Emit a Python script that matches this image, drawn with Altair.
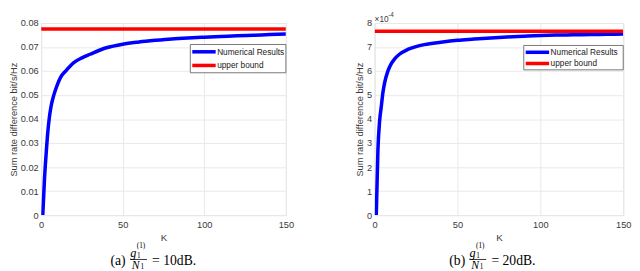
import altair as alt
import pandas as pd

# ---- data ----
K = [1, 2, 3, 4, 5, 6, 8, 10, 12, 15, 20, 25, 30, 40, 50, 60, 70, 80, 90, 100,
     110, 120, 130, 140, 150]
rate_a = [0.0, 0.0145, 0.025, 0.034, 0.0405, 0.045, 0.0505, 0.0545, 0.0575, 0.060,
          0.0635, 0.0655, 0.067, 0.0697, 0.0712, 0.0721, 0.0728, 0.0734, 0.0738, 0.0741,
          0.0744, 0.0747, 0.0749, 0.0752, 0.0754]
rate_b = [0.0, 2.7e-4, 3.9e-4, 4.5e-4, 5.1e-4, 5.5e-4, 6.0e-4, 6.3e-4, 6.5e-4, 6.7e-4,
          6.9e-4, 7.02e-4, 7.1e-4, 7.2e-4, 7.28e-4, 7.33e-4, 7.38e-4, 7.42e-4, 7.45e-4, 7.48e-4,
          7.50e-4, 7.51e-4, 7.52e-4, 7.53e-4, 7.54e-4]
bound_a = 0.0775
bound_b = 7.66e-4
bound_K = [0, 150]
series = ["Numerical Results", "upper bound"]
colors = ["#0000ff", "#ff0000"]
x_ticks = [0, 50, 100, 150]
y_ticks_a = [0, 0.01, 0.02, 0.03, 0.04, 0.05, 0.06, 0.07, 0.08]
y_ticks_b = [0, 1e-4, 2e-4, 3e-4, 4e-4, 5e-4, 6e-4, 7e-4, 8e-4]

SANS = "Liberation Sans"
SERIF = "Liberation Serif"
TXT = "#3a3a3a"
H = 197


def txt(text, xr, yr, size, font=SERIF, style="normal", align="center", op=1, color="black"):
    return alt.Chart(pd.DataFrame({"t": [text]})).mark_text(
        font=font, fontSize=size, fontStyle=style, align=align, baseline="middle",
        color=color, opacity=op).encode(
        text="t:N", x=alt.value(xr), y=alt.value(yr))


def hline(x1, x2, yv, color, width):
    return alt.Chart(pd.DataFrame({"a": [0]})).mark_rule(color=color, strokeWidth=width).encode(
        x=alt.value(x1), x2=alt.value(x2), y=alt.value(yv))


def panel(W, rates, bound, yticks, ylabel_expr, tag, db, with_exp, dx, leg):
    curve = pd.DataFrame({"K": K, "v": rates, "s": series[0]})
    ub = pd.DataFrame({"K": bound_K, "v": [bound, bound], "s": series[1]})
    ymax = yticks[-1]

    color = alt.Color("s:N", scale=alt.Scale(domain=series, range=colors), legend=None)
    x = alt.X("K:Q", scale=alt.Scale(domain=[0, 150], nice=False),
              axis=alt.Axis(values=x_ticks, title="K", grid=True, ticks=False,
                            labelFont=SANS, labelFontSize=9.5, labelColor=TXT,
                            labelPadding=5, titleFont=SANS, titleFontSize=10,
                            titleFontWeight="normal", titleColor=TXT, titlePadding=4,
                            gridColor="#e8e8e8", domain=False, labelFlush=False))
    y = alt.Y("v:Q", scale=alt.Scale(domain=[0, ymax], nice=False),
              axis=alt.Axis(values=yticks, labelExpr=ylabel_expr,
                            title="Sum rate difference bit/s/Hz", grid=True, ticks=False,
                            labelFont=SANS, labelFontSize=9.5, labelColor=TXT,
                            labelPadding=3, titleFont=SANS, titleFontSize=9.5,
                            titleFontWeight="normal", titleColor=TXT, titlePadding=2,
                            gridColor="#e8e8e8", domain=False))

    blue = alt.Chart(curve).mark_line(strokeWidth=3.6, interpolate="monotone", clip=True).encode(
        x=x, y=y, color=color)
    red = alt.Chart(ub).mark_line(strokeWidth=3.6, clip=True).encode(x=x, y=y, color=color)

    # legend box (MATLAB style, inside the axes at top right)
    lx1, ly1, ly2, r1, r2 = leg
    box = alt.Chart(pd.DataFrame({"a": [0]})).mark_rect(
        fill="white", stroke="#555", strokeWidth=0.8).encode(
        x=alt.value(lx1), x2=alt.value(W), y=alt.value(ly1), y2=alt.value(ly2))
    legend = [
        box,
        hline(lx1 + 2, lx1 + 26, r1, colors[0], 3.6),
        hline(lx1 + 2, lx1 + 26, r2, colors[1], 3.6),
        txt(series[0], lx1 + 27.5, r1, 8.5, font=SANS, align="left", color="#222"),
        txt(series[1], lx1 + 27.5, r2, 8.5, font=SANS, align="left", color="#222"),
    ]

    cap = [
        txt(f"({tag})", 84.8 + dx, H + 47, 14),
        txt("g", 100.4 + dx, H + 38.5, 12.5, style="italic"),
        txt("1", 104.2 + dx, H + 41.8, 7.5, align="left"),
        txt("(1)", 108.4 + dx, H + 32, 7.5),
        hline(97.5 + dx, 114.5 + dx, H + 45.5, "black", 0.8),
        txt("N", 103 + dx, H + 51, 12, style="italic"),
        txt("1", 107.8 + dx, H + 53.5, 7.5, align="left"),
        txt(f"= {db}dB.", 119.8 + dx, H + 46.8, 14, align="left"),
    ]
    exp = [
        txt("\u00d710", 0, -4, 8.5, font=SANS, align="left", op=1 if with_exp else 0, color=TXT),
        txt("-4", 14, -8, 6.5, font=SANS, align="left", op=1 if with_exp else 0, color=TXT),
    ]
    return alt.layer(blue, red, *legend, *cap, *exp).properties(width=W, height=H)


left = panel(251, rate_a, bound_a, y_ticks_a,
             "datum.value == 0 ? '0' : format(datum.value, '.2f')", "a", 10, False,
             -6, (153, 22, 51, 29.5, 43.5))
right = panel(255, rate_b, bound_b, y_ticks_b,
              "format(round(datum.value * 1e4), 'd')", "b", 20, True,
              0, (153, 23, 48, 30, 41.5))

chart = alt.hconcat(left, right, spacing=61).properties(
    padding={"left": 0, "top": 0, "right": 0, "bottom": 0}
).configure_view(stroke="#8a8a8a", strokeWidth=1).configure(background="white")

chart.save("out.html", embed_options={"renderer": "svg", "actions": False})
